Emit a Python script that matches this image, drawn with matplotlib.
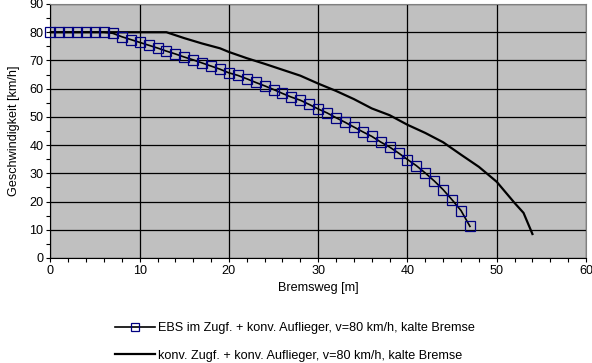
import matplotlib.pyplot as plt
from matplotlib.ticker import MultipleLocator

plt.rcParams["font.family"] = ["Liberation Sans", "DejaVu Sans"]
plt.rcParams["font.size"] = 9.1

# Daten EBS (Messpunkte alle 1 m)
weg_ebs = list(range(0, 48))
v_ebs = [80, 80, 80, 80, 80, 80, 80, 79.6, 78.4, 77.4,
         76.4, 75.4, 74.4, 73.3, 72.3, 71.2, 70.2, 69.1, 68.0, 66.9,
         65.6, 64.7, 63.5, 62.2, 61.0, 59.7, 58.3, 57.0, 55.9, 54.4,
         52.8, 51.4, 49.7, 48.1, 46.4, 44.7, 43.1, 41.1, 39.3, 37.2,
         34.9, 32.7, 30.1, 27.3, 24.2, 20.6, 16.8, 11.2]

# Daten konventionell
weg_konv = [0, 13, 15, 17, 19, 20, 22, 24, 26, 28, 30, 32, 34, 36, 38,
            40, 42, 44, 46, 48, 50, 52, 53, 54]
v_konv = [80, 80, 77.9, 76.0, 74.3, 73.0, 70.8, 68.8, 66.7, 64.6, 61.8,
          59.2, 56.3, 53.0, 50.6, 47.2, 44.3, 41.0, 36.6, 32.3, 27.0,
          19.5, 16.0, 8.5]

label_ebs = "EBS im Zugf. + konv. Auflieger, v=80 km/h, kalte Bremse"
label_konv = "konv. Zugf. + konv. Auflieger, v=80 km/h, kalte Bremse"

fig = plt.figure(figsize=(5.92, 3.63), dpi=100)
ax = fig.add_axes([50.4 / 592, 1 - 258 / 363, (586 - 50.4) / 592, (258 - 4) / 363])
ax.set_facecolor("#c0c0c0")

ax.plot(weg_ebs, v_ebs, color="black", linewidth=1.2, marker="s",
        markersize=6.5, markerfacecolor="none", markeredgecolor="#000080",
        markeredgewidth=0.9, clip_on=False, zorder=4, label=label_ebs)
ax.plot(weg_konv, v_konv, color="black", linewidth=1.6, zorder=3,
        label=label_konv)

ax.set_xlim(0, 60)
ax.set_ylim(0, 90)
ax.xaxis.set_major_locator(MultipleLocator(10))
ax.xaxis.set_minor_locator(MultipleLocator(2))
ax.yaxis.set_major_locator(MultipleLocator(10))
ax.yaxis.set_minor_locator(MultipleLocator(5))
ax.tick_params(which="both", direction="out", length=3, width=0.8, pad=2)
ax.grid(True, which="major", color="black", linewidth=0.9)
ax.set_axisbelow(True)

for s in ["top", "right"]:
    ax.spines[s].set_color("#808080")
for s in ["left", "bottom"]:
    ax.spines[s].set_color("black")
    ax.spines[s].set_linewidth(0.8)

ax.set_xlabel("Bremsweg [m]", labelpad=4)
ax.set_ylabel("Geschwindigkeit [km/h]", labelpad=7)

# Legende unter dem Diagramm
fig.legend(loc="center", bbox_to_anchor=(295 / 592, 1 - 342 / 363),
           frameon=False, handlelength=3.2, handletextpad=0.25,
           labelspacing=1.25, markerscale=0.85)

plt.savefig("out.png", dpi=100)
